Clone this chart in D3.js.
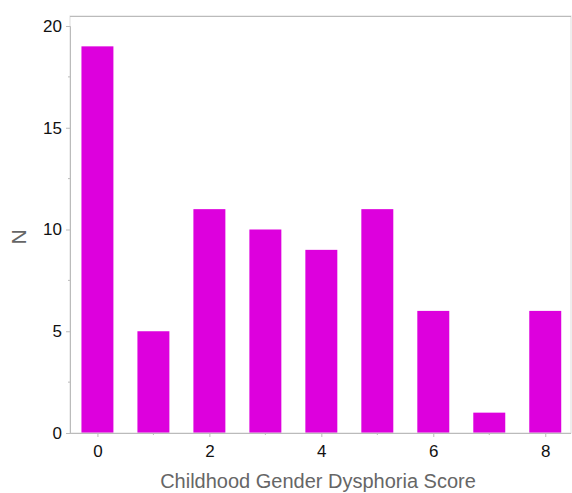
<!DOCTYPE html>
<html><head><meta charset="utf-8">
<script src="https://cdn.jsdelivr.net/npm/d3@7"></script>
<style>body{margin:0;background:#fff}svg{display:block}text{font-family:"Liberation Sans",Arial,Helvetica,sans-serif}</style>
</head><body><svg id="c" width="572" height="493"></svg>
<script>
const scores = [0,1,2,3,4,5,6,7,8];
const counts = [19,5,11,10,9,11,6,1,6];
const yTicks = [0,5,10,15,20];
const xTicks = [0,2,4,6,8];
const xTitle = "Childhood Gender Dysphoria Score";
const yTitle = "N";

const svg = d3.select("#c");
const L=70, R=571, T=16, B=433;
const x = d3.scaleLinear().domain([-0.49,8.46]).range([L,R]);
const y = d3.scaleLinear().domain([0,20]).range([B,26]);
const bw = x(0.571)-x(0);
const axisColor="#bbb";

svg.selectAll("rect.bar").data(scores).join("rect").attr("class","bar")
  .attr("x",d=>x(d)-bw/2).attr("width",bw)
  .attr("y",(d,i)=>y(counts[i])).attr("height",(d,i)=>B-y(counts[i]))
  .attr("fill","#dd00dd");

// frame
svg.append("rect").attr("x",L).attr("y",T).attr("width",R-L).attr("height",B-T)
  .attr("fill","none").attr("stroke","#ddd").attr("stroke-width",1);
svg.append("line").attr("x1",L).attr("x2",R).attr("y1",T+0.5).attr("y2",T+0.5).attr("stroke","#bbb");

// y axis
const ya = svg.append("g").attr("transform",`translate(${L},0)`)
  .call(d3.axisLeft(y).tickValues(yTicks).tickSize(4).tickPadding(4).tickFormat(d3.format("d")));
ya.select(".domain").attr("stroke",axisColor);
ya.selectAll(".tick line").attr("stroke",axisColor);
ya.selectAll(".tick text").attr("font-size",17).attr("fill","#111");
svg.append("g").selectAll("line").data([2.5,7.5,12.5,17.5]).join("line")
  .attr("x1",L-2).attr("x2",L).attr("y1",d=>y(d)).attr("y2",d=>y(d)).attr("stroke",axisColor);

// x axis
const xa = svg.append("g").attr("transform",`translate(0,${B})`)
  .call(d3.axisBottom(x).tickValues(xTicks).tickSize(4).tickPadding(8).tickFormat(d3.format("d")));
xa.select(".domain").attr("stroke",axisColor).attr("d",`M${L},0.5H${R}`);
xa.selectAll(".tick line").attr("stroke",axisColor);
xa.selectAll(".tick text").attr("font-size",17).attr("fill","#111");
svg.append("g").selectAll("line").data([1,3,5,7]).join("line")
  .attr("x1",d=>x(d)).attr("x2",d=>x(d)).attr("y1",B).attr("y2",B+2).attr("stroke",axisColor);

svg.append("text").attr("x",318).attr("y",488).attr("text-anchor","middle")
  .attr("font-size",20).attr("fill","#666").text(xTitle);
svg.append("text").attr("transform",`translate(26,237) rotate(-90)`).attr("text-anchor","middle")
  .attr("font-size",21).attr("fill","#666").text(yTitle);
</script></body></html>
